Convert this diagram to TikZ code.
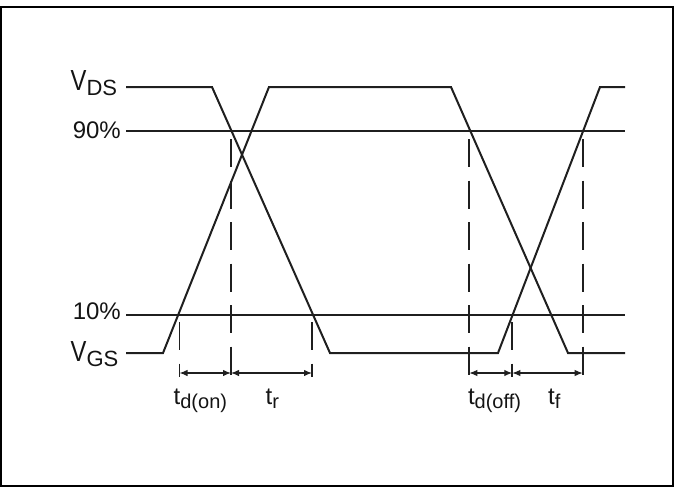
\documentclass[tikz,border=0pt]{standalone}
\usepackage{fontspec}
\setmainfont{Liberation Sans}
\usetikzlibrary{arrows.meta}
\newcommand{\mainsz}[1]{{\fontsize{24}{24}\selectfont #1}}
\newcommand{\Vsz}[1]{\scalebox{0.82}[1]{\fontsize{29}{29}\selectfont #1}}
\newcommand{\subA}[1]{\raisebox{-4.6pt}{\fontsize{22}{22}\selectfont #1}}
\newcommand{\subB}[1]{\raisebox{-4pt}{\fontsize{20}{20}\selectfont #1}}
\begin{document}
\begin{tikzpicture}[x=1pt,y=-1pt,
  wave/.style={line width=2pt, line join=miter, draw=black!88},
  level/.style={line width=2pt, draw=black!88},
  guide/.style={line width=1.8pt, draw=black!88, dash pattern=on 28.3pt off 13.2pt},
  meas/.style={line width=1.2pt, draw=black!88, {Latex[length=8pt,width=6.5pt]}-{Latex[length=8pt,width=6.5pt]}},
  lbl/.style={inner sep=0pt, anchor=base west, text=black!92}]
\useasboundingbox (0,0) rectangle (675,488);
\draw[line width=2.2pt] (1,6.7) rectangle (673,486);
% level lines
\coordinate (h90a) at (126,131); \coordinate (h90b) at (625,131);
\coordinate (h10a) at (126,315); \coordinate (h10b) at (625,315);
\draw[level] (h90a) -- (h90b);
\draw[level] (h10a) -- (h10b);
% waveform A (VDS)
\draw[wave] (126,87) -- (212,87) -- (330,353) -- (498,353) -- (600,87) -- (625,87);
% waveform B (VGS)
\draw[wave] (126,353) -- (163,353) -- (269,87) -- (451,87) -- (568,353) -- (625,353);
% guides
\coordinate (g1t) at (179.5,322); \coordinate (g1b) at (179.5,377);
\coordinate (g2t) at (231,139);   \coordinate (g2b) at (231,377);
\coordinate (g3t) at (312,322);   \coordinate (g3b) at (312,377);
\coordinate (g4t) at (469.3,139); \coordinate (g4b) at (469.3,377);
\coordinate (g5t) at (512.3,322); \coordinate (g5b) at (512.3,377);
\coordinate (g6t) at (582.7,139); \coordinate (g6b) at (582.7,377);
\foreach \g in {1,...,6} \draw[guide] (g\g t) -- (g\g b);
% measurement arrows
\coordinate (m1) at (179.5,373); \coordinate (m2) at (231,373); \coordinate (m3) at (312,373);
\coordinate (m4) at (469.3,373); \coordinate (m5) at (512.3,373); \coordinate (m6) at (582.7,373);
\draw[meas] (m1) -- (m2);
\draw[meas] (m2) -- (m3);
\draw[meas] (m4) -- (m5);
\draw[meas] (m5) -- (m6);
% labels
\node[lbl] (vds) at (70.5,90.7) {\Vsz{V}\subA{DS}};
\node[lbl, anchor=base east] (p90) at (121,138) {\mainsz{90\%}};
\node[lbl, anchor=base east] (p10) at (121,319.5) {\mainsz{10\%}};
\node[lbl] (vgs) at (70.5,361.7) {\Vsz{V}\subA{GS}};
\node[lbl] (tdon) at (173.5,404.3) {\mainsz{t}\subB{d(on)}};
\node[lbl] (tr) at (265.5,404.3) {\mainsz{t}\subB{r}};
\node[lbl] (tdoff) at (467.8,404.3) {\mainsz{t}\subB{d(off)}};
\node[lbl] (tf) at (548,404.3) {\mainsz{t}\subB{f}};
\end{tikzpicture}
\end{document}
